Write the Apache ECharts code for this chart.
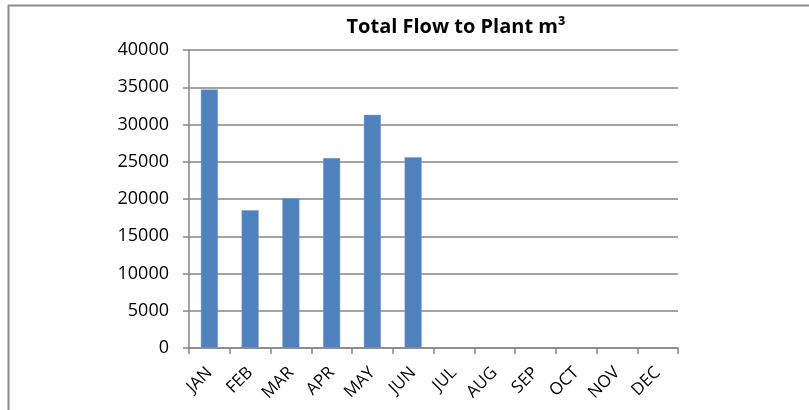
<!DOCTYPE html>
<html>
<head>
<meta charset="utf-8">
<script src="https://cdn.jsdelivr.net/npm/echarts@6/dist/echarts.min.js"></script>
<style>
  html, body { margin: 0; padding: 0; background: #fff; }
  #chart { width: 809px; height: 410px; }
</style>
</head>
<body>
<div id="chart"></div>
<script>
// 月份
var months = ['JAN', 'FEB', 'MAR', 'APR', 'MAY', 'JUN', 'JUL', 'AUG', 'SEP', 'OCT', 'NOV', 'DEC'];
// 流量 m3
var flowValues = [34700, 18500, 20100, 25500, 31300, 25600, null, null, null, null, null, null];
var yTicks = [0, 5000, 10000, 15000, 20000, 25000, 30000, 35000, 40000];

var myChart = echarts.init(document.getElementById('chart'));
var fontFam = 'Open Sans, Liberation Sans, sans-serif';
var option = {
    animation: false,
    backgroundColor: '#fff',
    graphic: [{
        type: 'rect',
        shape: { x: 8.5, y: 5.5, width: 830, height: 430 },
        style: { fill: 'none', stroke: '#8c8c8c', lineWidth: 2 }
    }],
    title: {
        text: 'Total Flow to Plant m³',
        left: 451,
        top: 12,
        textAlign: 'center',
        textStyle: { fontFamily: fontFam, fontWeight: 'bold', fontSize: 20, color: '#000' }
    },
    grid: { left: 189, right: 131, top: 50, bottom: 62 },
    xAxis: {
        type: 'category',
        data: months,
        axisLine: { lineStyle: { color: '#868686', width: 1.5 } },
        axisTick: { show: true, length: 6, lineStyle: { color: '#868686', width: 1.5 } },
        axisLabel: { rotate: 45, fontFamily: fontFam, fontSize: 17, color: '#000', margin: 22, interval: 0 }
    },
    yAxis: {
        type: 'value',
        min: yTicks[0],
        max: yTicks[yTicks.length - 1],
        interval: 5000,
        axisLine: { show: true, lineStyle: { color: '#868686', width: 1.5 } },
        axisTick: { show: true, length: 6, lineStyle: { color: '#868686', width: 1.5 } },
        splitLine: { lineStyle: { color: '#868686', width: 1.5 } },
        axisLabel: {
            fontFamily: fontFam, fontSize: 18, color: '#000', margin: 20,
            formatter: function (v) { return String(v); }
        }
    },
    series: [{
        type: 'bar',
        data: flowValues,
        barWidth: '42%',
        itemStyle: { color: '#4F81BD', borderColor: '#7DA0CE', borderWidth: 0.5 }
    }]
};
myChart.setOption(option);
</script>
</body>
</html>
